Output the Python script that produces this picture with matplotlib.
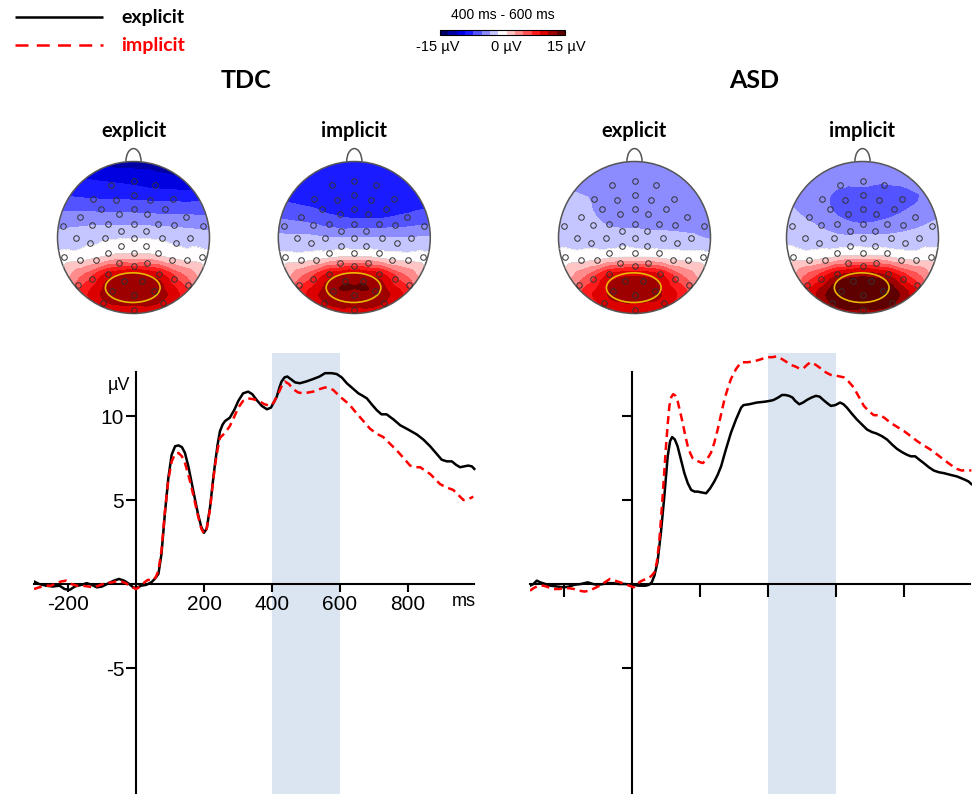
import numpy as np
import matplotlib
matplotlib.use('Agg')
import matplotlib.pyplot as plt
import matplotlib.tri as mtri
from matplotlib.patches import Circle, Ellipse, Arc
from matplotlib.colors import LinearSegmentedColormap, Normalize

plt.rcParams['font.family'] = ['Liberation Sans', 'DejaVu Sans']

# ---------------- ERP data (ms, µV) ----------------
tdc_exp_t = [-300, -285, -265, -245, -225, -210, -195, -180, -160, -145, -130, -115, -100, -85, -65, -50, -35, -20, -8, 0,
             15, 30, 45, 55, 66, 75, 85, 95, 105, 115, 125, 135, 144, 154, 164, 174, 183, 192, 200, 208, 218, 225, 232,
             240, 247, 255, 262, 276, 290, 301, 315, 330, 342, 355, 370, 385, 397, 405, 414, 422, 428, 437, 445, 455,
             468, 482, 500, 521, 540, 556, 575, 590, 605, 620, 637, 654, 667, 679, 693, 708, 722, 737, 757, 777, 800,
             826, 845, 865, 882, 899, 914, 929, 941, 953, 965, 977, 988, 995]
tdc_exp_v = [0.15, 0.0, -0.1, -0.15, -0.1, -0.3, -0.35, -0.15, -0.05, 0.05, -0.05, -0.2, -0.15, 0.0, 0.2, 0.3, 0.2, 0.0,
             -0.2, -0.25, -0.1, -0.05, 0.1, 0.3, 0.6, 1.8, 4.2, 6.3, 7.7, 8.2, 8.25, 8.15, 7.8, 7.0, 6.0, 5.0, 4.1, 3.4,
             3.05, 3.3, 4.6, 5.9, 7.1, 8.3, 9.1, 9.5, 9.7, 9.9, 10.4, 10.9, 11.35, 11.45, 11.3, 10.95, 10.6, 10.4, 10.5,
             10.8, 11.15, 11.7, 12.05, 12.3, 12.35, 12.2, 12.0, 11.95, 12.05, 12.2, 12.35, 12.55, 12.55, 12.5, 12.3,
             11.95, 11.65, 11.35, 11.2, 11.05, 10.7, 10.35, 10.1, 10.1, 9.8, 9.45, 9.2, 8.9, 8.6, 8.2, 7.8, 7.4, 7.3,
             7.3, 7.1, 6.95, 7.0, 7.05, 7.0, 6.85]

tdc_imp_t = [-300, -285, -265, -250, -235, -220, -205, -190, -175, -160, -140, -125, -110, -90, -70, -50, -30, -15, 0,
             12, 25, 35, 48, 58, 66, 75, 85, 95, 105, 115, 125, 135, 144, 154, 164, 174, 183, 192, 200, 208, 218, 225,
             232, 240, 247, 262, 276, 290, 301, 315, 330, 345, 360, 378, 395, 405, 420, 430, 438, 450, 462, 477, 492,
             507, 521, 540, 556, 570, 580, 590, 600, 615, 629, 643, 658, 673, 688, 707, 727, 747, 767, 787, 806, 821,
             836, 850, 865, 880, 894, 913, 933, 948, 963, 978, 992]
tdc_imp_v = [-0.3, -0.2, -0.1, -0.1, 0.05, 0.15, 0.2, 0.0, -0.1, -0.1, -0.15, -0.2, -0.1, 0.05, 0.1, 0.2, 0.05, -0.15,
             -0.3, -0.15, 0.1, 0.25, 0.2, 0.4, 0.8, 2.0, 4.3, 6.2, 7.3, 7.75, 7.8, 7.6, 7.2, 6.5, 5.7, 4.8, 4.0, 3.3,
             3.0, 3.3, 4.5, 5.8, 7.0, 8.0, 8.7, 9.0, 9.4, 10.0, 10.5, 10.9, 11.05, 11.0, 10.9, 10.7, 10.6, 10.8, 11.4,
             11.85, 12.05, 11.9, 11.6, 11.4, 11.35, 11.4, 11.45, 11.6, 11.7, 11.65, 11.55, 11.35, 11.15, 10.9, 10.65,
             10.3, 9.95, 9.6, 9.25, 8.95, 8.75, 8.35, 7.95, 7.5, 7.05, 6.95, 6.95, 6.75, 6.55, 6.25, 5.95, 5.75, 5.6,
             5.3, 5.0, 5.05, 5.2]

asd_exp_t = [-300, -290, -280, -270, -255, -240, -220, -200, -185, -170, -150, -130, -115, -100, -85, -70, -55, -40, -20,
             0, 20, 40, 50, 58, 66, 75, 85, 95, 105, 112, 118, 126, 134, 144, 154, 164, 174, 184, 193, 205, 218, 230,
             242, 252, 262, 276, 291, 306, 321, 328, 345, 367, 390, 405, 416, 430, 441, 451, 462, 472, 480, 492, 503,
             514, 528, 541, 552, 563, 575, 585, 598, 612, 622, 632, 646, 661, 676, 691, 705, 720, 735, 750, 765, 779,
             794, 808, 820, 833, 845, 858, 873, 888, 903, 917, 936, 956, 968, 980, 990, 998]
asd_exp_v = [-0.1, 0.0, 0.2, 0.1, 0.0, -0.1, -0.15, -0.2, -0.15, -0.05, 0.0, 0.1, 0.0, -0.05, 0.0, 0.05, 0.05, 0.0, 0.0,
             -0.05, -0.1, -0.1, -0.05, 0.1, 0.5, 1.3, 3.05, 5.2, 7.6, 8.5, 8.75, 8.6, 8.2, 7.4, 6.6, 6.0, 5.6, 5.5, 5.5,
             5.45, 5.4, 5.7, 6.1, 6.5, 7.0, 8.0, 9.0, 9.8, 10.5, 10.65, 10.7, 10.8, 10.85, 10.9, 10.95, 11.1, 11.25,
             11.25, 11.2, 11.1, 10.9, 10.7, 10.8, 10.95, 11.1, 11.2, 11.15, 10.95, 10.75, 10.6, 10.65, 10.8, 10.7,
             10.5, 10.15, 9.8, 9.5, 9.2, 9.05, 8.95, 8.8, 8.6, 8.3, 8.05, 7.85, 7.7, 7.6, 7.6, 7.4, 7.2, 6.95, 6.75,
             6.65, 6.6, 6.5, 6.4, 6.3, 6.2, 6.1, 5.95]

asd_imp_t = [-300, -290, -275, -260, -245, -230, -215, -200, -185, -170, -155, -140, -125, -110, -95, -80, -65, -50, -35,
             -20, -8, 5, 15, 25, 35, 46, 58, 66, 73, 80, 85, 90, 95, 100, 105, 110, 115, 121, 128, 134, 141, 149, 157,
             164, 171, 178, 190, 200, 208, 220, 232, 242, 252, 262, 272, 281, 291, 306, 321, 340, 358, 375, 397, 412,
             426, 440, 452, 466, 480, 495, 505, 515, 525, 540, 554, 570, 584, 600, 612, 623, 637, 652, 667, 682, 696,
             711, 731, 745, 760, 780, 800, 820, 839, 858, 878, 898, 917, 937, 956, 970, 985, 998]
asd_imp_v = [-0.4, -0.25, -0.1, -0.1, -0.2, -0.3, -0.3, -0.25, -0.25, -0.3, -0.4, -0.45, -0.4, -0.25, -0.1, 0.1, 0.3,
             0.2, 0.1, 0.0, -0.1, -0.2, 0.0, 0.15, 0.25, 0.3, 0.5, 0.7, 1.3, 2.5, 3.8, 5.2, 6.7, 8.2, 9.5, 10.6, 11.1,
             11.3, 11.2, 10.9, 10.3, 9.6, 8.8, 8.2, 7.8, 7.5, 7.35, 7.25, 7.2, 7.4, 7.8, 8.4, 9.2, 10.1, 11.0, 11.6,
             12.2, 12.8, 13.2, 13.2, 13.25, 13.35, 13.5, 13.5, 13.55, 13.4, 13.25, 13.05, 12.95, 12.8, 12.85, 13.05,
             13.2, 13.05, 12.85, 12.6, 12.45, 12.4, 12.35, 12.3, 12.05, 11.7, 11.15, 10.6, 10.3, 10.05, 10.05, 9.85,
             9.6, 9.35, 9.1, 8.8, 8.5, 8.25, 8.0, 7.7, 7.4, 7.1, 6.85, 6.75, 6.8, 6.75]

x_ticks = [-200, 200, 400, 600, 800]
x_tick_labels = ['-200', '200', '400', '600', '800']
y_ticks = [-5, 5, 10]
y_tick_labels = ['-5', '5', '10']
window = (400, 600)

# ---------------- topography data (µV, 400-600 ms) ----------------
topo_y = [1.0, 0.75, 0.5, 0.25, 0.0, -0.25, -0.5, -0.75, -1.0]     # front -> back
topo_x = [-1.0, -0.67, -0.33, 0.0, 0.33, 0.67, 1.0]                # left -> right

tdc_exp_map = [
    [-10.5, -11.3, -11.8, -11.9, -11.9, -11.6, -11.0],
    [-8.6, -8.8, -9.2, -9.6, -10.2, -10.6, -10.2],
    [-6.5, -6.8, -7.0, -7.1, -7.3, -7.4, -7.2],
    [-4.2, -4.0, -4.0, -4.1, -4.3, -4.4, -4.6],
    [-2.2, -1.8, -1.3, -1.1, -1.3, -1.8, -2.2],
    [-0.5, 0.0, 1.3, 1.8, 1.3, 0.0, -0.5],
    [0.5, 5.0, 10.0, 11.5, 10.0, 5.0, 0.5],
    [1.5, 8.0, 12.0, 12.5, 12.0, 8.0, 1.5],
    [1.5, 6.0, 9.0, 9.5, 9.0, 6.0, 1.5],
]
tdc_imp_map = [
    [-7.5, -7.8, -8.0, -8.0, -8.0, -7.8, -7.5],
    [-7.5, -7.8, -8.0, -8.2, -8.2, -8.0, -7.8],
    [-7.0, -7.5, -8.0, -8.0, -8.0, -7.8, -7.5],
    [-5.0, -5.5, -6.5, -7.0, -7.0, -6.5, -6.0],
    [-2.5, -2.5, -3.0, -3.0, -3.0, -3.0, -2.8],
    [-0.5, -0.3, 0.5, 1.0, 0.5, -0.2, -0.5],
    [0.5, 5.0, 10.0, 11.5, 10.0, 5.0, 0.5],
    [2.0, 8.5, 12.2, 12.8, 12.2, 8.5, 2.0],
    [2.0, 6.0, 9.5, 10.0, 9.5, 6.0, 2.0],
]
asd_exp_map = [
    [-4.0, -4.2, -4.3, -4.3, -4.3, -4.2, -4.0],
    [-3.5, -4.0, -4.2, -4.3, -4.3, -4.2, -4.0],
    [-2.5, -2.8, -4.0, -4.2, -4.2, -4.1, -4.0],
    [-2.2, -2.4, -3.5, -3.8, -3.8, -3.8, -3.6],
    [-1.5, -1.6, -2.0, -2.0, -2.3, -2.6, -3.2],
    [-0.5, -0.2, 0.5, 0.8, 0.5, 0.0, -0.5],
    [0.5, 4.5, 9.5, 10.8, 9.5, 4.5, 0.5],
    [1.5, 7.5, 11.2, 12.0, 11.2, 7.5, 1.5],
    [1.5, 5.5, 8.5, 9.0, 8.5, 5.5, 1.5],
]
asd_imp_map = [
    [-3.5, -4.0, -4.2, -4.2, -4.2, -4.0, -3.5],
    [-3.5, -4.0, -4.5, -4.5, -4.8, -4.5, -4.0],
    [-3.0, -3.8, -5.5, -6.0, -5.8, -5.2, -4.0],
    [-2.5, -3.2, -4.8, -5.5, -5.0, -4.0, -3.0],
    [-1.5, -2.0, -2.5, -2.5, -2.5, -2.2, -1.8],
    [0.0, 0.0, 1.0, 1.5, 1.0, 0.0, 0.0],
    [1.5, 6.0, 11.0, 12.5, 11.0, 6.0, 1.5],
    [3.0, 10.0, 14.8, 15.5, 14.8, 10.0, 3.0],
    [2.5, 7.0, 11.5, 12.0, 11.5, 7.0, 2.5],
]

# electrode layout (normalised head coords)
elec_x = [-0.29, 0.0, 0.28, -0.53, -0.23, 0.0, 0.22, 0.52, -0.43, -0.19, 0.0, 0.18, 0.42, -0.7, 0.69,
          -0.93, -0.54, -0.33, 0.0, 0.32, 0.53, 0.92, -0.17, 0.16, -0.76, -0.38, 0.0, 0.37, 0.74,
          -0.57, 0.56, -0.17, 0.16, -0.33, 0.0, 0.32, -0.91, -0.7, -0.5, 0.5, 0.7, 0.9, -0.19, 0.18,
          0.0, -0.33, 0.33, -0.54, 0.53, -0.12, 0.11, -0.73, 0.72, -0.28, 0.27, 0.0, -0.4, 0.39, 0.0]
elec_y = [0.69, 0.74, 0.69, 0.51, 0.5, 0.56, 0.5, 0.51, 0.37, 0.31, 0.37, 0.31, 0.37, 0.27, 0.27,
          0.15, 0.17, 0.18, 0.18, 0.18, 0.17, 0.15, 0.09, 0.09, -0.01, -0.01, -0.01, -0.01, -0.01,
          -0.07, -0.07, -0.11, -0.11, -0.2, -0.2, -0.2, -0.25, -0.29, -0.29, -0.29, -0.29, -0.25, -0.34, -0.34,
          -0.38, -0.48, -0.48, -0.54, -0.54, -0.57, -0.57, -0.62, -0.62, -0.7, -0.7, -0.75, -0.86, -0.86, -0.96]

levels = np.arange(-15, 16, 2)
cmap = LinearSegmentedColormap.from_list(
    'erp', [(0.0, (0, 0, 0.3)), (0.2, (0, 0, 1)), (0.5, (1, 1, 1)), (0.8, (1, 0, 0)), (1.0, (0.25, 0, 0))])
norm = Normalize(-15, 15)

W, H = 975, 794
fig = plt.figure(figsize=(W / 100, H / 100), dpi=100)

ov = fig.add_axes([0, 0, 1, 1])
ov.set_xlim(0, W)
ov.set_ylim(H, 0)
ov.axis('off')

BOLD = ['Lato', 'DejaVu Sans']

# ---------------- legend ----------------
ov.plot([15, 103], [17, 17], color='black', lw=1.8, solid_capstyle='butt')
ov.plot([15, 103], [45, 45], color='#ff0000', lw=1.8, ls=(0, (5.2, 3.3)))
ov.text(121, 18, 'explicit', fontsize=14, fontweight='bold', family=BOLD, va='center', ha='left', color='black')
ov.text(121, 46, 'implicit', fontsize=14, fontweight='bold', family=BOLD, va='center', ha='left', color='#ff0000')

ov.text(246, 80, 'TDC', fontsize=18, fontweight='bold', family=BOLD, ha='center', va='center')
ov.text(754, 80, 'ASD', fontsize=18, fontweight='bold', family=BOLD, ha='center', va='center')

# ---------------- topographies ----------------
heads = [(133.5, 237.5, 'explicit', tdc_exp_map),
         (354.3, 237.5, 'implicit', tdc_imp_map),
         (634.5, 237.5, 'explicit', asd_exp_map),
         (862.5, 237.5, 'implicit', asd_imp_map)]
R = 76
S = 1.25 * R
cs_ref = None
for cx, cy, title, vals in heads:
    ax = fig.add_axes([(cx - S) / W, 1 - (cy + S) / H, 2 * S / W, 2 * S / H])
    ax.set_xlim(-1.25, 1.25)
    ax.set_ylim(-1.25, 1.25)
    ax.axis('off')
    X, Y = np.meshgrid(topo_x, topo_y)
    tri = mtri.Triangulation(X.ravel(), Y.ravel())
    interp = mtri.CubicTriInterpolator(tri, np.array(vals).ravel(), kind='geom')
    g = np.linspace(-1, 1, 301)
    GX, GY = np.meshgrid(g, g)
    Z = np.clip(interp(GX, GY), -14.9, 14.9)
    cs = ax.contourf(GX, GY, Z, levels=levels, cmap=cmap, norm=norm)
    clip = Circle((0, 0), 1, transform=ax.transData)
    cs.set_clip_path(clip)
    cl = ax.contour(GX, GY, Z, levels=[-1, 1], colors='#d4d4d4', linewidths=0.5)
    cl.set_clip_path(clip)
    cs_ref = cs
    ax.add_patch(Circle((0, 0), 1, fill=False, ec='#555555', lw=1.1))
    ax.add_patch(Arc((0, 1.0), 0.2, 0.34, theta1=0, theta2=180, ec='#555555', lw=1.1))
    ax.plot(elec_x, elec_y, 'o', mfc='none', mec='#333333', ms=4, mew=0.7)
    ax.add_patch(Ellipse((-0.01, -0.66), 0.72, 0.39, fill=False, ec='#e8b800', lw=1.2))
    ov.text(cx, 131, title, fontsize=14.5, fontweight='bold', family=BOLD, ha='center', va='center')

# ---------------- colour bar ----------------
cax = fig.add_axes([440 / W, 1 - 35 / H, 125 / W, 5 / H])
cb = fig.colorbar(cs_ref, cax=cax, orientation='horizontal')
cb.set_ticks([])
cb.outline.set_linewidth(0.8)
ov.text(503, 15, '400 ms - 600 ms', fontsize=10, ha='center', va='center')
ov.text(438, 47, '-15 µV', fontsize=10.5, ha='center', va='center')
ov.text(506, 47, '0 µV', fontsize=10.5, ha='center', va='center')
ov.text(566, 47, '15 µV', fontsize=10.5, ha='center', va='center')

# ---------------- ERP panels ----------------
def erp_panel(left_px, t_e, v_e, t_i, v_i, labels, xtick_len):
    ax = fig.add_axes([left_px / W, 0, 442 / W, 441 / H])
    ax.patch.set_visible(False)
    ax.set_xlim(-300, 1000)
    ax.set_ylim(-12.5, 13.75)
    ax.axvspan(window[0], window[1], color='#dbe5f1', lw=0, zorder=0)
    for s in ['top', 'right']:
        ax.spines[s].set_visible(False)
    ax.spines['left'].set_position(('data', 0))
    ax.spines['bottom'].set_position(('data', 0))
    ax.spines['left'].set_bounds(-12.5, 12.6)
    ax.spines['bottom'].set_bounds(-300, 995)
    for s in ['left', 'bottom']:
        ax.spines[s].set_linewidth(1.5)
    ax.set_xticks(x_ticks)
    ax.set_yticks(y_ticks)
    if labels:
        ax.set_xticklabels(x_tick_labels)
        ax.set_yticklabels(y_tick_labels)
    else:
        ax.set_xticklabels([])
        ax.set_yticklabels([])
    ax.tick_params(axis='x', direction='out', length=xtick_len, width=1.5, pad=2, labelsize=15)
    ax.tick_params(axis='y', direction='out', length=7.5, width=1.5, pad=1, labelsize=15)
    ax.plot(t_e, v_e, color='black', lw=1.8, zorder=3)
    ax.plot(t_i, v_i, color='#ff0000', lw=1.8, ls=(0, (3.2, 2.0)), zorder=4)
    return ax

erp_panel(34, tdc_exp_t, tdc_exp_v, tdc_imp_t, tdc_imp_v, True, 6)
erp_panel(530, asd_exp_t, asd_exp_v, asd_imp_t, asd_imp_v, False, 9)

ov.text(119, 386, 'µV', fontsize=13, ha='center', va='center')
ov.text(464, 601, 'ms', fontsize=13, ha='center', va='center')

fig.savefig('out.png', dpi=100)
